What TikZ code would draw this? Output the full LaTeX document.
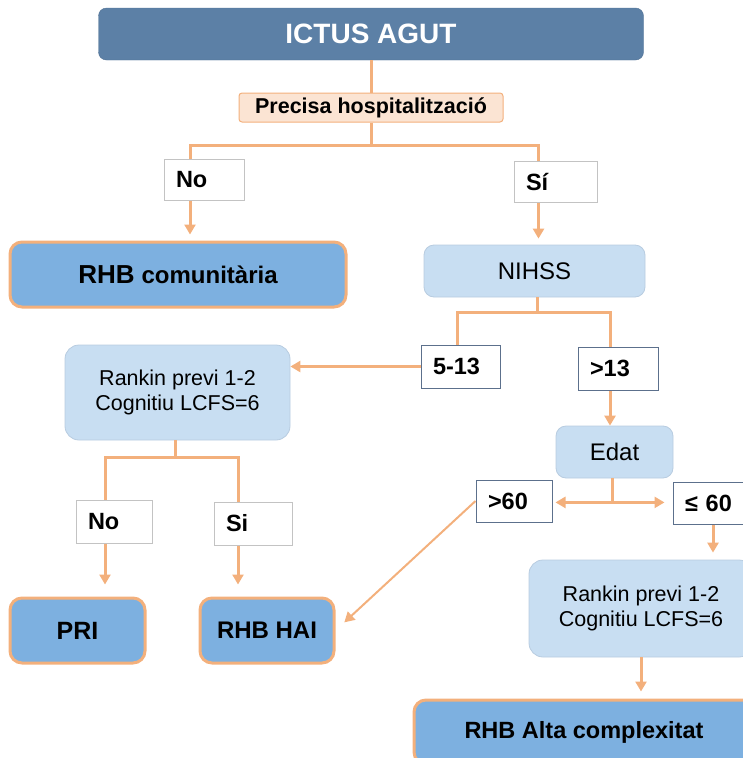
\documentclass[tikz,border=0pt]{standalone}
\usepackage{fontspec}
\setmainfont{Liberation Sans}
\usetikzlibrary{arrows.meta, positioning, calc}
\definecolor{myheader}{RGB}{92,128,166}
\definecolor{myorange}{RGB}{243,176,124}
\definecolor{mypeach}{RGB}{251,228,211}
\definecolor{mylight}{RGB}{200,222,242}
\definecolor{mylightline}{RGB}{184,204,224}
\definecolor{mymid}{RGB}{125,176,224}
\definecolor{mygrey}{RGB}{195,195,195}
\definecolor{myslate}{RGB}{92,112,140}

\begin{document}
\begin{tikzpicture}[x=1pt, y=-1pt,
    link/.style={myorange, line width=3pt},
    arr/.style={link, -{Triangle[width=11pt, length=10pt]}},
    choice/.style={draw=mygrey, line width=1pt, fill=white, inner xsep=12pt, inner ysep=0pt,
      align=left, font=\bfseries\fontsize{23.5}{27}\selectfont},
    cut/.style={choice, draw=myslate},
    step box/.style={draw=mylightline, line width=0.8pt, fill=mylight, rounded corners=12pt,
      align=center, font=\fontsize{21.5}{25.5}\selectfont},
    result/.style={draw=myorange, line width=3pt, fill=mymid, rounded corners=12pt,
      font=\bfseries\fontsize{25}{29}\selectfont}]
    \useasboundingbox (0,0) rectangle (743,758);
    \clip (0,0) rectangle (743,758);

    % cap i hospitalitzacio
    \node[draw=myheader!90!black, fill=myheader, rounded corners=8pt, minimum width=545pt, minimum height=52pt,
      text=white, font=\bfseries\fontsize{28}{32}\selectfont] (top) at (371, 34) {ICTUS AGUT};
    \node[draw=myorange, line width=1pt, fill=mypeach, rounded corners=3pt, minimum width=264pt, minimum height=29pt,
      font=\bfseries\fontsize{21.5}{25}\selectfont] (hosp) at (371, 107.5) {Precisa hospitalització};
    \draw[link] (top) -- (hosp);

    \node[choice, text width=56pt, minimum height=41pt] (no1) at (204, 179.5) {No};
    \node[choice, text width=59pt, minimum height=41pt] (si1) at (555.5, 181.5) {Sí};
    \coordinate (split1) at ($(hosp.south)+(0,23)$);
    \draw[link] (hosp.south) -- (split1);
    \draw[link] (split1) -| ([xshift=-14pt]no1.north);
    \draw[link] (split1) -| ([xshift=-17pt]si1.north);

    % no hospitalitzacio
    \node[result, minimum width=336pt, minimum height=65pt] (comu) at (178, 274.5)
      {{\fontsize{26}{30}\selectfont RHB} {\fontsize{24}{28}\selectfont comunitària}};
    \draw[arr, shorten >=6pt] ([xshift=-14pt]no1.south) -- ([xshift=-14pt]no1.south |- comu.north);

    % NIHSS
    \node[step box, minimum width=221pt, minimum height=52pt, rounded corners=10pt,
      font=\fontsize{24}{28}\selectfont] (nihss) at (534.5, 271) {NIHSS};
    \draw[arr, shorten >=6pt] ([xshift=-17pt]si1.south) -- ([xshift=-17pt]si1.south |- nihss.north);

    \node[cut, text width=55pt, minimum height=43pt] (r513) at (460.5, 366.5) {5-13};
    \node[cut, text width=56pt, minimum height=43pt] (g13) at (618, 368.5) {>13};
    \coordinate (split2) at ($(nihss.south)+(3,15)$);
    \draw[link] ($(nihss.south)+(3,0)$) -- (split2);
    \draw[link] (split2) -| ([xshift=-3pt]r513.north);
    \draw[link] (split2) -| ([xshift=-8pt]g13.north);

    % 5-13
    \node[step box, minimum width=225pt, minimum height=95pt, rounded corners=14pt] (rank1) at (177.5, 392.5)
      {Rankin previ 1-2\\Cognitiu LCFS=6};
    \draw[arr] (r513.west) -- (r513.west -| rank1.east);

    \node[choice, text width=52pt, minimum height=43pt] (no2) at (114, 521.5) {No};
    \node[choice, text width=54pt, minimum height=43pt] (si2) at (253, 523.5) {Si};
    \coordinate (split3) at ($(rank1.south)+(-2,17)$);
    \draw[link] ($(rank1.south)+(-2,0)$) -- (split3);
    \draw[link] (split3) -| ([xshift=-9pt]no2.north);
    \draw[link] (split3) -| ([xshift=-15pt]si2.north);

    \node[result, minimum width=135pt, minimum height=65pt] (pri) at (77.5, 630.5) {PRI};
    \node[result, minimum width=134pt, minimum height=65pt, font=\bfseries\fontsize{24}{28}\selectfont] (hai)
      at (267, 630.5) {RHB HAI};
    \draw[arr, shorten >=12pt] ([xshift=-9pt]no2.south) -- ([xshift=-9pt]no2.south |- pri.north);
    \draw[arr, shorten >=12pt] ([xshift=-15pt]si2.south) -- ([xshift=-15pt]si2.south |- hai.north);

    % >13
    \node[step box, minimum width=117pt, minimum height=52pt, rounded corners=10pt,
      font=\fontsize{24}{28}\selectfont] (edat) at (614.5, 452) {Edat};
    \draw[arr] ([xshift=-8pt]g13.south) -- ([xshift=-8pt]g13.south |- edat.north);

    \node[cut, text width=52pt, minimum height=42pt] (g60) at (514, 501) {>60};
    \node[cut, text width=58pt, minimum height=42pt] (le60) at (714, 503) {≤ 60};
    \coordinate (split4) at ($(edat.south)+(-2,24)$);
    \draw[link] ($(edat.south)+(-2,0)$) -- (split4);
    \draw[arr, shorten >=3pt] (split4) -- (split4 -| g60.east);
    \draw[arr, shorten >=8pt] (split4) -- (split4 -| le60.west);
    \draw[arr, line width=2pt, shorten >=12pt] (g60.west) -- (hai.east);

    \node[step box, minimum width=224pt, minimum height=97pt, rounded corners=14pt] (rank2) at (641, 608.5)
      {Rankin previ 1-2\\Cognitiu LCFS=6};
    \draw[arr, shorten >=7pt] ([xshift=-1pt]le60.south) -- ([xshift=-1pt]le60.south |- rank2.north);

    \node[result, minimum width=340pt, minimum height=64pt, font=\bfseries\fontsize{23.5}{27}\selectfont] (alta)
      at (584, 732) {RHB Alta complexitat};
    \draw[arr, shorten >=7pt] (rank2.south) -- (rank2.south |- alta.north);
\end{tikzpicture}
\end{document}
